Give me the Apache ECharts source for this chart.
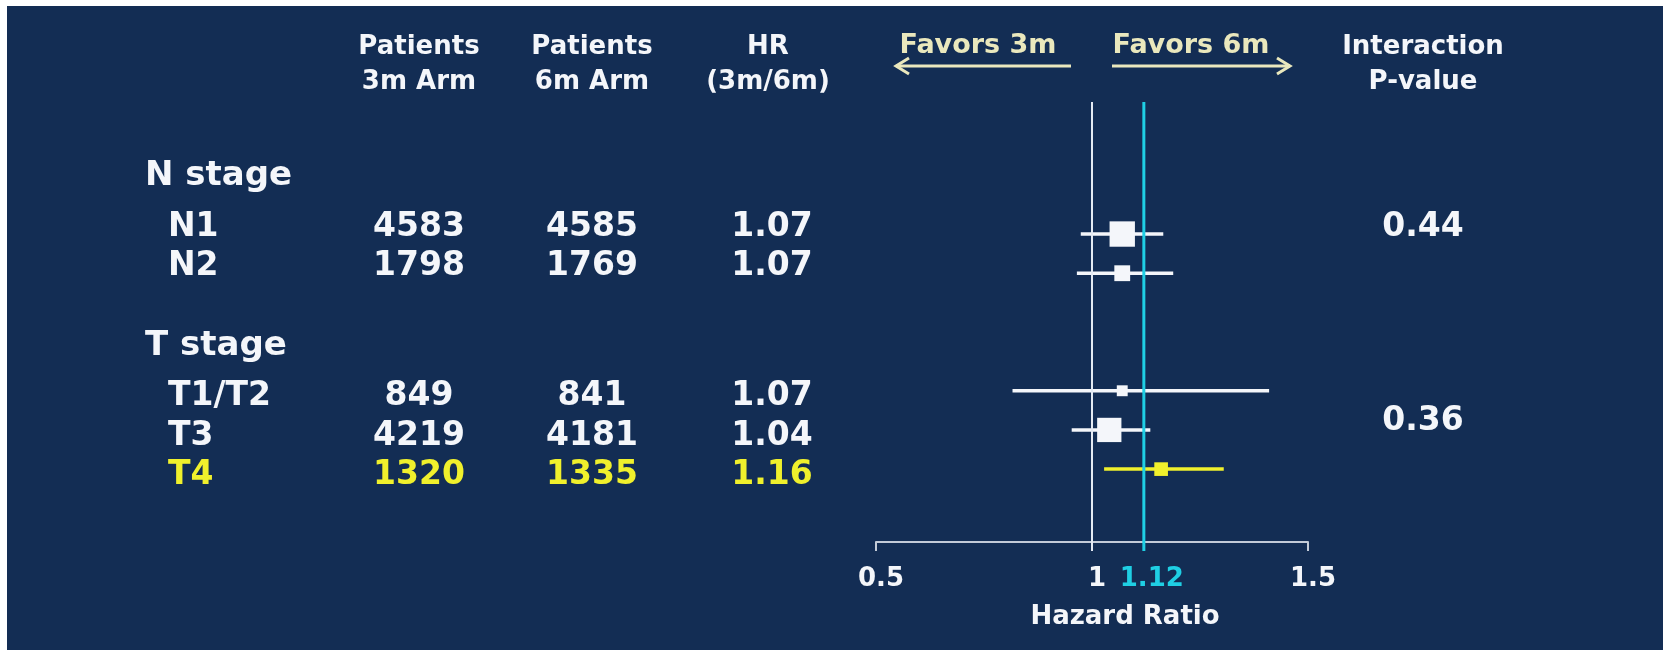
<!DOCTYPE html>
<html>
<head>
<meta charset="utf-8">
<script src="https://cdn.jsdelivr.net/npm/echarts@6/dist/echarts.min.js"></script>
<style>
  html, body { margin: 0; padding: 0; background: #ffffff; }
  #chart { width: 1663px; height: 650px; }
</style>
</head>
<body>
<div id="chart"></div>
<script>
// ---- Subgroup results: 3-month vs 6-month adjuvant arms ----
const groupNames = ['N stage', 'T stage'];
const subgroups = ['N1', 'N2', 'T1/T2', 'T3', 'T4'];
const subgroupGroup = [0, 0, 1, 1, 1];
const patients3m = [4583, 1798, 849, 4219, 1320];
const patients6m = [4585, 1769, 841, 4181, 1335];
const hazardRatio = [1.07, 1.07, 1.07, 1.04, 1.16];
const ciLower = [0.974, 0.965, 0.816, 0.953, 1.028];
const ciUpper = [1.165, 1.188, 1.41, 1.135, 1.305];
const interactionP = ['0.44', '0.36'];
const highlighted = ['T4'];
const overallHR = 1.12;
const nullHR = 1;
const axisTicks = [0.5, 1, 1.5];

// ---- Look and layout ----
const NAVY = '#132d54';
const WHITE = '#f4f6fa';
const YELLOW = '#f0f02c';
const CYAN = '#1fcfe4';
const CREAM = '#eae8bd';
const AXIS_GREY = '#c3cbd8';
const FONT = '"DejaVu Sans", "Liberation Sans", sans-serif';

const COL = { header: 145, label: 168, arm3: 419, arm6: 592, hr: 772, pValue: 1423 };
const GROUP_TEXT_SHIFT = [-7, 6];   // text baseline tweak per block
const HEADER_ABOVE = 51;            // group title above its first row
const PVALUE_SHIFT = [0, 25];       // interaction p-value placement per block
const SQUARE_SCALE = 0.265;         // marker side ~ sqrt(patients)

// each group gets a title slot, plus a spacer slot between groups
const slotOf = i => i + 2 * subgroupGroup[i] + 1;

const ciData = subgroups.map((name, i) => ({
  name,
  value: [hazardRatio[i], slotOf(i), ciLower[i], ciUpper[i],
          SQUARE_SCALE * Math.sqrt(patients3m[i] + patients6m[i])]
}));

const tableData = subgroups.map((name, i) => ({ name, value: [nullHR, slotOf(i)] }));

function txt(text, x, y, opts) {
  return {
    type: 'text',
    style: Object.assign({
      text, x, y,
      fill: WHITE,
      fontFamily: FONT,
      fontWeight: 'bold',
      fontSize: 33,
      align: 'center',
      verticalAlign: 'middle'
    }, opts || {})
  };
}

function heading(text, x, y, fill, size) {
  return {
    type: 'text', x, y,
    style: { text, fill, fontFamily: FONT, fontWeight: 'bold', fontSize: size, lineHeight: 35, align: 'center', verticalAlign: 'middle' }
  };
}

const chart = echarts.init(document.getElementById('chart'), null, { renderer: 'canvas' });

const option = {
  backgroundColor: NAVY,
  animation: false,
  grid: { left: 876, right: 355, top: 102, bottom: 108, containLabel: false },
  xAxis: {
    type: 'value',
    min: 0.5,
    max: 1.5,
    interval: 0.5,
    splitLine: { show: false },
    axisLine: { show: true, onZero: false, lineStyle: { color: AXIS_GREY, width: 2 } },
    axisTick: {
      show: true, length: 9,
      customValues: axisTicks.concat([overallHR]),
      lineStyle: { color: AXIS_GREY, width: 2 }
    },
    axisLabel: {
      customValues: axisTicks.concat([overallHR]),
      margin: 22,
      color: WHITE,
      fontFamily: FONT,
      fontWeight: 'bold',
      fontSize: 26,
      lineHeight: 30,
      padding: [0, 0, 0, 10],
      formatter: v => Math.abs(v - overallHR) < 1e-9 ? '{hi|' + v + '}' : String(v),
      rich: {
        hi: { color: CYAN, fontFamily: FONT, fontWeight: 'bold', fontSize: 26, lineHeight: 30, padding: [0, 0, 0, 6] }
      }
    },
    name: 'Hazard Ratio',
    nameLocation: 'middle',
    nameGap: 59,
    nameTextStyle: {
      color: WHITE, fontFamily: FONT, fontWeight: 'bold', fontSize: 26, lineHeight: 32,
      padding: [0, 0, 0, 66]
    }
  },
  yAxis: { type: 'value', inverse: true, min: -2.37, max: 8.86, show: false },
  graphic: [
    // page margin strips
    { type: 'rect', shape: { x: 0, y: 0, width: 1663, height: 6 }, style: { fill: '#ffffff' }, silent: true },
    { type: 'rect', shape: { x: 0, y: 0, width: 7, height: 650 }, style: { fill: '#ffffff' }, silent: true },
    // column headings
    heading('Patients\n3m Arm', COL.arm3, 65, WHITE, 26),
    heading('Patients\n6m Arm', COL.arm6, 65, WHITE, 26),
    heading('HR\n(3m/6m)', 768, 65, WHITE, 26),
    heading('Interaction\nP-value', COL.pValue, 65, WHITE, 26),
    // direction hints above the plot
    heading('Favors 3m', 978, 46, CREAM, 27),
    heading('Favors 6m', 1191, 46, CREAM, 27),
    { type: 'line', shape: { x1: 896, y1: 66, x2: 1071, y2: 66 }, style: { stroke: CREAM, lineWidth: 3 } },
    { type: 'polyline', shape: { points: [[909, 58], [896, 66], [909, 74]] }, style: { stroke: CREAM, lineWidth: 3, fill: null } },
    { type: 'line', shape: { x1: 1112, y1: 66, x2: 1290, y2: 66 }, style: { stroke: CREAM, lineWidth: 3 } },
    { type: 'polyline', shape: { points: [[1277, 58], [1290, 66], [1277, 74]] }, style: { stroke: CREAM, lineWidth: 3, fill: null } }
  ],
  series: [
    {
      // confidence intervals with size-weighted point estimates
      name: 'Subgroup HR',
      type: 'custom',
      z: 3,
      data: ciData,
      encode: { x: [0, 2, 3], y: 1 },
      renderItem: (params, api) => {
        const slot = api.value(1);
        const lo = api.coord([api.value(2), slot]);
        const hi = api.coord([api.value(3), slot]);
        const c = api.coord([api.value(0), slot]);
        const s = api.value(4);
        const color = highlighted.includes(subgroups[params.dataIndex]) ? YELLOW : WHITE;
        return {
          type: 'group',
          children: [
            { type: 'line', shape: { x1: lo[0], y1: lo[1], x2: hi[0], y2: hi[1] }, style: { stroke: color, lineWidth: 3.5 } },
            { type: 'rect', shape: { x: c[0] - s / 2, y: c[1] - s / 2, width: s, height: s }, style: { fill: color } }
          ]
        };
      }
    },
    {
      // no-effect line and overall estimate
      name: 'Reference',
      type: 'custom',
      z: 5,
      data: [[nullHR], [overallHR]],
      encode: { x: 0 },
      renderItem: (params, api) => {
        const cs = params.coordSys;
        const x = api.coord([api.value(0), 0])[0];
        const isOverall = params.dataIndex === 1;
        return {
          type: 'line',
          shape: { x1: x, y1: cs.y, x2: x, y2: cs.y + cs.height + 9 },
          style: { stroke: isOverall ? CYAN : '#e4eaf3', lineWidth: isOverall ? 3 : 2 }
        };
      }
    },
    {
      // table: subgroup labels, patient counts, HR text, group titles, p-values
      name: 'Table',
      type: 'custom',
      z: 4,
      data: tableData,
      encode: { y: 1 },
      renderItem: (params, api) => {
        const i = params.dataIndex;
        const g = subgroupGroup[i];
        const y = api.coord([nullHR, api.value(1)])[1] + GROUP_TEXT_SHIFT[g];
        const color = highlighted.includes(subgroups[i]) ? YELLOW : WHITE;
        const children = [
          txt(subgroups[i], COL.label, y, { fill: color, align: 'left' }),
          txt(String(patients3m[i]), COL.arm3, y, { fill: color }),
          txt(String(patients6m[i]), COL.arm6, y, { fill: color }),
          txt(hazardRatio[i].toFixed(2), COL.hr, y, { fill: color })
        ];
        if (subgroupGroup.indexOf(g) === i) {
          children.push(txt(groupNames[g], COL.header, y - HEADER_ABOVE, { align: 'left', fontSize: 34 }));
          children.push(txt(interactionP[g], COL.pValue, y + PVALUE_SHIFT[g]));
        }
        return { type: 'group', children };
      }
    }
  ]
};

chart.setOption(option);
</script>
</body>
</html>
